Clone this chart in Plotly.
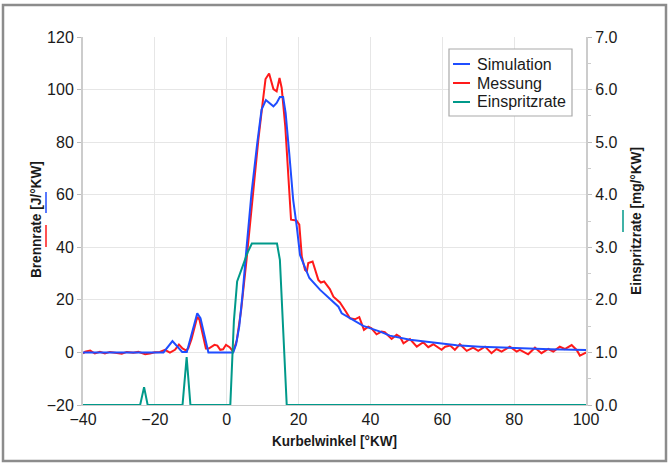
import plotly.graph_objects as go

# ---------------- data ----------------
sim_x = [-40, -17.6, -15.1, -12.4, -11.1, -8.2, -7.3, -5.1, 1.8, 2.6, 3.5, 4.4, 5.55, 6.9, 8.5, 9.7,
         10.9, 11.9, 13.0, 13.9, 14.8, 15.7, 16.4, 17.4, 18.5, 19.5, 20.4, 21.3, 23.0, 26.0, 28.7,
         31.1, 32.0, 34.3, 38.0, 42.7, 45.4, 51.0, 58.4, 64.0, 70.5, 80.0, 90.0, 100.0]
sim_y = [0, 0, 4.3, 0.2, 0.2, 14.9, 13.0, 0, 0, 3, 10, 22, 40.3, 60.6, 79.6, 92.4,
         96.0, 94.9, 93.6, 94.9, 97.2, 97.2, 91.0, 75.8, 58.0, 47.9, 37.1, 34.0, 28.3, 23.8, 20.6,
         17.4, 14.9, 13.0, 10.1, 7.9, 6.4, 4.8, 3.5, 2.7, 2.2, 1.6, 1.2, 0.95]

meas_x = [-40, -39.4, -38.0, -36.7, -35.3, -33.9, -32.5, -31.1, -29.2, -27.8, -26.0, -24.6, -22.7,
          -21.4, -20.0, -18.6, -17.2, -15.8, -14.4, -13.3, -12.3, -11.4, -10.7, -9.8, -8.8, -8.2,
          -7.6, -6.8, -5.8, -5.0, -4.2, -3.4, -2.6, -1.8, -1.0, -0.2, 0.8, 1.8, 2.8, 4.0, 5.5,
          6.4, 7.4, 8.8, 10.0, 10.8, 11.8, 13.0, 13.9, 14.7, 15.3, 16.3, 17.9, 19.4, 20.2, 20.9,
          21.8, 22.3, 22.7, 23.9, 25.5, 26.2, 27.1, 28.7, 29.7, 31.5, 33.2, 34.3, 35.7, 36.9,
          38.2, 39.4, 40.3, 41.7, 43.1, 44.0, 45.9, 47.3, 48.2, 49.2, 51.0, 52.9, 54.7, 56.1,
          57.5, 59.8, 60.8, 62.2, 63.5, 64.9, 66.8, 68.6, 70.0, 71.9, 73.7, 75.1, 76.5, 78.8,
          80.7, 81.6, 83.9, 85.8, 87.6, 89.5, 90.9, 92.7, 94.1, 96.0, 97.4, 98.3, 99.7, 100.0]
meas_y = [-0.4, 0.3, 0.7, -0.4, 0.2, -0.4, 0.2, -0.1, -0.5, 0.2, -0.1, 0.2, -0.7,
          -0.4, 0.1, 0.2, 1.0, -0.1, 1.0, 3.0, 1.5, 0.8, 1.5, 5.0, 11.0, 13.5,
          12.5, 7.0, 1.5, 1.5, 2.2, 2.9, 2.6, 1.0, 1.2, 2.9, 2.0, 0.3, 4.5, 16.0, 35.0,
          48.0, 60.6, 80.9, 94.9, 104.0, 106.1, 100.2, 99.3, 104.4, 100.6, 86.0, 50.5, 50.2, 48.6, 36.5,
          31.4, 30.8, 34.0, 34.6, 27.6, 26.6, 27.0, 24.1, 21.2, 19.0, 15.5, 13.0, 12.6, 13.4,
          8.6, 9.8, 9.2, 6.9, 7.9, 7.7, 5.1, 6.7, 6.0, 3.5, 5.1, 2.2, 3.9, 2.0,
          3.1, 1.0, 2.2, 2.6, 1.0, 3.1, 0.6, 1.8, 0.6, 2.2, -0.3, 1.3, 0.3, 2.2,
          0.3, 0.95, -0.7, 1.8, -0.3, 1.3, 0.3, 2.2, 1.3, 2.8, 0.95, -1.2, -0.3, 0.0]

inj_x = [-40, -24.1, -23.0, -22.0, -12.3, -11.15, -10.1, 1.0, 2.0, 2.9, 4.6, 5.8, 7.0, 14.0, 14.8, 16.7, 100]
inj_y = [0, 0, 0.34, 0, 0, 0.91, 0, 0, 1.6, 2.35, 2.67, 2.9, 3.07, 3.07, 2.76, 0, 0]

legend_names = ["Simulation", "Messung", "Einspritzrate"]
x_title = "Kurbelwinkel [°KW]"
y_title = "Brennrate [J/°KW]"
y2_title = "Einspritzrate [mg/°KW]"

BLUE = "#1f4dff"
RED = "#ff1a1a"
TEAL = "#00998a"
colors = [BLUE, RED, TEAL]

W, H = 669, 463
L, R, T, B = 83, 83, 37, 58
PW, PH = W - L - R, H - T - B


def px_x(px):
    return (px - L) / PW


def px_y(py):
    return (H - B - py) / PH


fig = go.Figure()
fig.add_trace(go.Scatter(x=inj_x, y=inj_y, mode="lines", line=dict(color=TEAL, width=2),
                         yaxis="y2", name=legend_names[2], showlegend=False))
fig.add_trace(go.Scatter(x=meas_x, y=meas_y, mode="lines", line=dict(color=RED, width=2),
                         name=legend_names[1], showlegend=False))
fig.add_trace(go.Scatter(x=sim_x, y=sim_y, mode="lines", line=dict(color=BLUE, width=2),
                         name=legend_names[0], showlegend=False))

TICKFONT = dict(family="Liberation Sans, Arial, sans-serif", size=16, color="#1a1a1a")
TITLEFONT = dict(family="Liberation Sans, Arial, sans-serif",
                 size=15.5, color="#1a1a1a", weight="bold")

fig.update_layout(
    width=W, height=H,
    margin=dict(l=L, r=R, t=T, b=B),
    paper_bgcolor="white", plot_bgcolor="white",
    showlegend=False,
    xaxis=dict(range=[-40, 100], tick0=-40, dtick=20, showgrid=True, gridcolor="#e6e6e6",
               gridwidth=1, zeroline=False, showline=True, linecolor="#cccccc", linewidth=1,
               ticks="", tickfont=TICKFONT),
    yaxis=dict(range=[-20, 120], tick0=-20, dtick=20, showgrid=True, gridcolor="#e6e6e6",
               gridwidth=1, zeroline=False, showline=True, linecolor="#cccccc", linewidth=2,
               ticks="outside", ticklen=4, tickcolor="#bbbbbb", tickfont=TICKFONT),
    yaxis2=dict(range=[0, 7], tick0=0, dtick=1, tickformat=".1f", overlaying="y", side="right",
                showgrid=False, zeroline=False, showline=True, linecolor="#cccccc", linewidth=2,
                ticks="outside", ticklen=4, tickcolor="#bbbbbb", tickfont=TICKFONT,
                minor=dict(dtick=0.5, ticks="outside", ticklen=3, tickcolor="#cccccc")),
)

shapes = []
annotations = []

# outer frame
shapes.append(dict(type="rect", xref="paper", yref="paper",
                   x0=px_x(3), x1=px_x(666), y0=px_y(461), y1=px_y(5),
                   line=dict(color="#8c8c8c", width=2.5), fillcolor="rgba(0,0,0,0)", layer="above"))

# axis titles
annotations.append(dict(text=x_title, xref="paper", yref="paper", x=0.5, y=px_y(440),
                        xanchor="center", yanchor="middle", showarrow=False, font=TITLEFONT))
annotations.append(dict(text=y_title, xref="paper", yref="paper", x=px_x(35), y=px_y(220),
                        xanchor="center", yanchor="middle", textangle=-90, showarrow=False,
                        font=TITLEFONT))
annotations.append(dict(text=y2_title, xref="paper", yref="paper", x=px_x(635), y=px_y(221),
                        xanchor="center", yanchor="middle", textangle=-90, showarrow=False,
                        font=TITLEFONT))
# colour keys next to axis titles
shapes.append(dict(type="line", xref="paper", yref="paper", x0=px_x(46), x1=px_x(46),
                   y0=px_y(192), y1=px_y(213), line=dict(color=BLUE, width=1.5)))
shapes.append(dict(type="line", xref="paper", yref="paper", x0=px_x(46), x1=px_x(46),
                   y0=px_y(225), y1=px_y(247), line=dict(color=RED, width=1.5)))
shapes.append(dict(type="line", xref="paper", yref="paper", x0=px_x(623), x1=px_x(623),
                   y0=px_y(210), y1=px_y(232), line=dict(color=TEAL, width=1.5)))

# legend box
shapes.append(dict(type="rect", xref="paper", yref="paper",
                   x0=px_x(449), x1=px_x(572), y0=px_y(116), y1=px_y(49),
                   line=dict(color="#aaaaaa", width=1.2), fillcolor="white", layer="above"))
leg_y = [64, 83, 102]
for name, col, yy in zip(legend_names, colors, leg_y):
    shapes.append(dict(type="line", xref="paper", yref="paper", x0=px_x(453), x1=px_x(470),
                       y0=px_y(yy), y1=px_y(yy), line=dict(color=col, width=2), layer="above"))
    annotations.append(dict(text=name, xref="paper", yref="paper", x=px_x(475), y=px_y(yy),
                            xanchor="left", yanchor="middle", showarrow=False,
                            font=dict(family="Liberation Sans, Arial, sans-serif", size=16,
                                      color="#1a1a1a")))

fig.update_layout(shapes=shapes, annotations=annotations)

# condensed look of the bold axis titles (the original uses a narrow face)
post = """
document.body.style.margin='0';
document.body.style.overflow='hidden';
var lens = [125, 117, 148];
var txt = document.querySelectorAll('g.annotation text.annotation-text');
for (var i = 0; i < 3 && i < txt.length; i++) {
  txt[i].setAttribute('textLength', lens[i]);
  txt[i].setAttribute('lengthAdjust', 'spacingAndGlyphs');
}
"""

fig.write_html("out.html", config={"displayModeBar": False, "staticPlot": True},
               post_script=post)
